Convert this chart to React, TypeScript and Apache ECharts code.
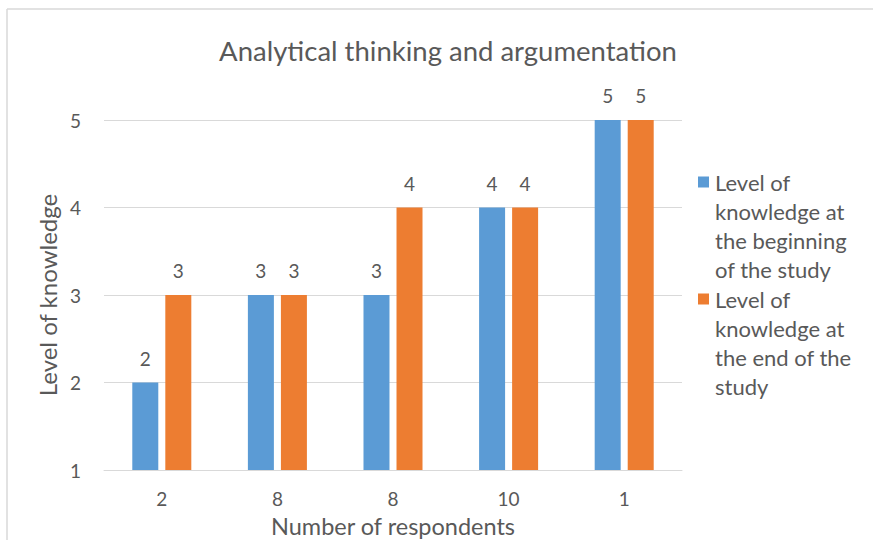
import React, { useEffect, useRef } from "react";
import * as echarts from "echarts";

const categories = ["2", "8", "8", "10", "1"];
const beginningValues = [2, 3, 3, 4, 5];
const endValues = [3, 3, 4, 4, 5];
const seriesNames = [
  "Level of knowledge at the beginning of the study",
  "Level of knowledge at the end of the study",
];
const legendLines: Record<string, string[]> = {
  [seriesNames[0]]: ["Level of", "knowledge at", "the beginning", "of the study"],
  [seriesNames[1]]: ["Level of", "knowledge at", "the end of the", "study"],
};
const yTicks = [1, 2, 3, 4, 5];

const FONT = "Lato";
const TEXT = "#595959";
const BLUE = "#5B9BD5";
const ORANGE = "#ED7D31";

export default function App() {
  const ref = useRef<HTMLDivElement>(null);
  useEffect(() => {
    if (!ref.current) return;
    const chart = echarts.init(ref.current, null, { renderer: "svg" });
    const labelCfg = {
      show: true,
      position: "top" as const,
      distance: 15,
      color: TEXT,
      fontSize: 19,
      fontFamily: FONT,
    };
    chart.setOption({
      animation: false,
      backgroundColor: "#ffffff",
      textStyle: { fontFamily: FONT, color: TEXT },
      title: {
        text: "Analytical thinking and argumentation",
        left: 443,
        textAlign: "center",
        top: 31,
        textStyle: { fontFamily: FONT, fontSize: 27.5, fontWeight: "normal", color: TEXT },
      },
      grid: {
        left: 104,
        right: 191,
        top: 120,
        bottom: 70,
        containLabel: false,
        outerBoundsMode: "none",
      },
      legend: {
        orient: "vertical",
        left: 688,
        top: 166,
        itemGap: 8,
        icon: "rect",
        itemWidth: 0,
        itemHeight: 0,
        data: seriesNames,
        formatter: (name: string) => {
          const lines = legendLines[name] || [name];
          const box = name === seriesNames[0] ? "a" : "b";
          return lines
            .map((l, i) => (i === 0 ? `{${box}| }{t|${l}}` : `{s| }{t|${l}}`))
            .join("\n");
        },
        textStyle: {
          color: TEXT,
          fontFamily: FONT,
          fontSize: 22,
          rich: {
            a: { width: 11, height: 11, backgroundColor: BLUE, lineHeight: 29 },
            b: { width: 11, height: 11, backgroundColor: ORANGE, lineHeight: 29 },
            s: { width: 11, lineHeight: 29 },
            t: { color: TEXT, fontFamily: FONT, fontSize: 22, lineHeight: 29, padding: [0, 0, 0, 6] },
          },
        },
      },
      xAxis: {
        type: "category",
        data: categories,
        name: "Number of respondents",
        nameLocation: "middle",
        nameGap: 44,
        nameMoveOverlap: false,
        nameTextStyle: { fontFamily: FONT, fontSize: 23.5, color: TEXT },
        axisLine: { show: true, lineStyle: { color: "#d9d9d9", width: 1 } },
        axisTick: { show: false },
        axisLabel: { color: TEXT, fontSize: 19, fontFamily: FONT, margin: 19 },
      },
      yAxis: {
        type: "value",
        min: yTicks[0],
        max: yTicks[yTicks.length - 1],
        interval: 1,
        name: "Level of knowledge",
        nameLocation: "middle",
        nameGap: 45,
        nameMoveOverlap: false,
        nameTextStyle: { fontFamily: FONT, fontSize: 24, color: TEXT },
        axisLine: { show: false },
        axisTick: { show: false },
        axisLabel: { color: TEXT, fontSize: 19, fontFamily: FONT, margin: 23 },
        splitLine: { show: true, lineStyle: { color: "#d9d9d9", width: 1 } },
      },
      series: [
        {
          name: seriesNames[0],
          type: "bar",
          data: beginningValues,
          barWidth: 26,
          barGap: "27%",
          itemStyle: { color: BLUE },
          label: labelCfg,
        },
        {
          name: seriesNames[1],
          type: "bar",
          data: endValues,
          barWidth: 26,
          barGap: "27%",
          itemStyle: { color: ORANGE },
          label: labelCfg,
        },
      ],
      graphic: [
        {
          type: "line",
          shape: { x1: 7, y1: 9, x2: 873, y2: 9 },
          style: { stroke: "#d9d9d9", lineWidth: 1.5 },
          silent: true,
        },
        {
          type: "line",
          shape: { x1: 7, y1: 9, x2: 7, y2: 540 },
          style: { stroke: "#d9d9d9", lineWidth: 1.5 },
          silent: true,
        },
      ],
    });
    return () => chart.dispose();
  }, []);
  return (
    <div
      ref={ref}
      style={{ position: "absolute", left: 0, top: 0, width: 873, height: 540 }}
    />
  );
}
